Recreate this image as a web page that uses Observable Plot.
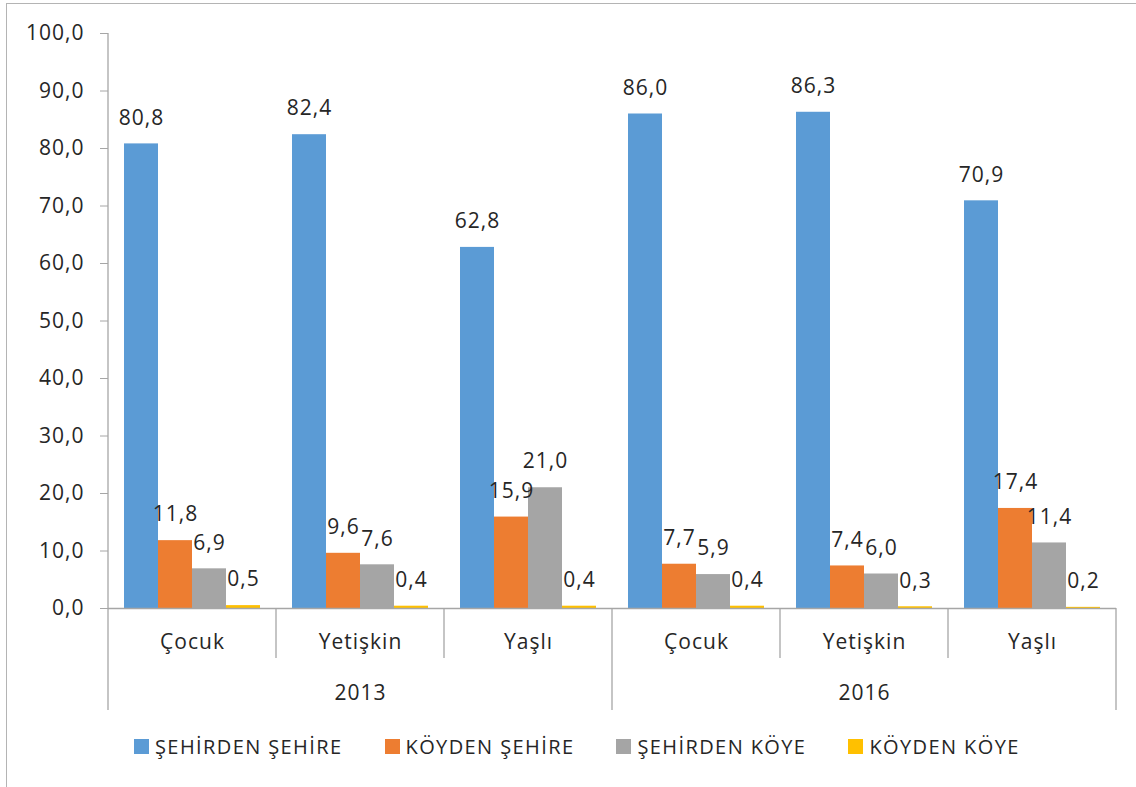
<!DOCTYPE html>
<html>
<head>
<meta charset="utf-8">
<script src="https://cdn.jsdelivr.net/npm/d3@7"></script>
<script src="https://cdn.jsdelivr.net/npm/@observablehq/plot@0.6"></script>
<style>
  html, body { margin: 0; padding: 0; background: #fff; }
  #wrap { position: relative; width: 1136px; height: 787px; overflow: hidden; background: #fff; }
  #border { position: absolute; left: 6px; top: 3px; width: 2000px; height: 2000px;
            border-left: 1.5px solid #b4b4b4; border-top: 1.5px solid #b4b4b4; pointer-events: none; }
  #chart svg text { letter-spacing: 1px; }
  #legend { display: flex; gap: 42px; margin-left: 134px; margin-top: 8px;
            font-family: "Open Sans", sans-serif; font-size: 20px; color: #262626; letter-spacing: 1.4px; }
  #legend .item { display: flex; align-items: center; }
  #legend .sw { width: 15px; height: 15px; margin-right: 6px; }
</style>
</head>
<body>
<div id="wrap">
  <div id="chart"></div>
  <div id="legend"></div>
  <div id="border"></div>
</div>
<script>
// ---- data ----
const years = ["2013", "2016"];
const groups = ["Çocuk", "Yetişkin", "Yaşlı"];
const series = ["ŞEHİRDEN ŞEHİRE", "KÖYDEN ŞEHİRE", "ŞEHİRDEN KÖYE", "KÖYDEN KÖYE"];
const colors = ["#5B9BD5", "#ED7D31", "#A5A5A5", "#FFC000"];
// order: 2013 Çocuk, 2013 Yetişkin, 2013 Yaşlı, 2016 Çocuk, 2016 Yetişkin, 2016 Yaşlı
const sehirdenSehire = [80.8, 82.4, 62.8, 86.0, 86.3, 70.9];
const koydenSehire   = [11.8, 9.6, 15.9, 7.7, 7.4, 17.4];
const sehirdenKoye   = [6.9, 7.6, 21.0, 5.9, 6.0, 11.4];
const koydenKoye     = [0.5, 0.4, 0.4, 0.4, 0.3, 0.2];
const yTicks = [0, 10, 20, 30, 40, 50, 60, 70, 80, 90, 100];

// ---- build table ----
const seriesValues = [sehirdenSehire, koydenSehire, sehirdenKoye, koydenKoye];
const keys = [];
const cats = [];
years.forEach((yr, i) => groups.forEach((g, j) => {
  const key = yr + "|" + g;
  keys.push(key);
  cats.push({key, year: yr, group: g, idx: i * groups.length + j});
}));
const rows = [];
cats.forEach(c => series.forEach((s, k) => {
  rows.push({key: c.key, series: s, value: seriesValues[k][c.idx]});
}));
const fmt = v => v.toFixed(1).replace(".", ",");
const txt = "#262626";
const axisColor = "#a6a6a6";
const FS = 21;

const H = 725;
const chart = Plot.plot({
  width: 1136,
  height: H,
  marginLeft: 108,
  marginRight: 20,
  marginTop: 33,
  marginBottom: H - 608,
  style: {fontFamily: "'Open Sans', sans-serif", fontSize: FS + "px", color: txt, background: "transparent"},
  fx: {domain: keys, padding: 0, axis: null},
  x: {domain: series, paddingInner: 0, paddingOuter: 0.45, axis: null},
  y: {domain: [0, 100], axis: null},
  color: {domain: series, range: colors},
  marks: [
    Plot.axisY({ticks: yTicks, tickSize: 8, tickPadding: 16, tickFormat: fmt, label: null,
                stroke: axisColor, fill: txt, facetAnchor: "left", fontSize: FS}),
    Plot.barY(rows, {fx: "key", x: "series", y: "value", fill: "series"}),
    Plot.ruleY([0], {stroke: axisColor, strokeWidth: 1.3}),
    Plot.text(rows, {fx: "key", x: "series", y: "value", text: d => fmt(d.value),
                     dy: -26, lineAnchor: "middle", fill: txt, fontSize: FS}),
    Plot.text(cats, {fx: "key", text: "group", frameAnchor: "bottom", dy: 34,
                     lineAnchor: "middle", fill: txt, fontSize: FS}),
    Plot.text(years, {fx: d => d + "|" + groups[1], text: d => d, frameAnchor: "bottom", dy: 85,
                      lineAnchor: "middle", fill: txt, fontSize: FS})
  ]
});
document.getElementById("chart").appendChild(chart);

// hierarchical category axis separators and y-axis line, positioned with Plot's scales
const fxS = chart.scale("fx");
const yS = chart.scale("y");
const y0 = yS.apply(0);
const yTop = yS.apply(100);
const svg = d3.select(chart);
const g = svg.append("g").attr("stroke", axisColor).attr("stroke-width", 1.3);
keys.forEach((k, i) => {
  const x = fxS.apply(k);
  const isYearStart = i % groups.length === 0;
  g.append("line").attr("x1", x).attr("x2", x)
    .attr("y1", i === 0 ? yTop : y0)
    .attr("y2", y0 + (isYearStart ? 102 : 50));
});
const xEnd = fxS.apply(keys[keys.length - 1]) + fxS.bandwidth;
g.append("line").attr("x1", xEnd).attr("x2", xEnd).attr("y1", y0).attr("y2", y0 + 102);

// legend
const cS = chart.scale("color");
const legend = d3.select("#legend");
cS.domain.forEach((s, i) => {
  const it = legend.append("div").attr("class", "item");
  it.append("div").attr("class", "sw").style("background", cS.range[i]);
  it.append("span").text(s);
});
</script>
</body>
</html>
